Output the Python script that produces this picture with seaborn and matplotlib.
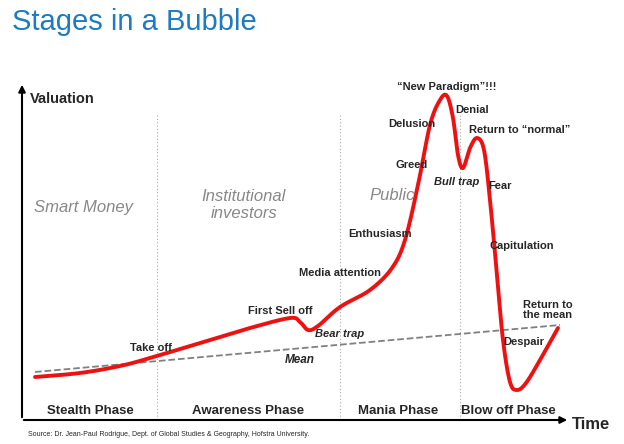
import numpy as np
import matplotlib
matplotlib.use("Agg")
import matplotlib.pyplot as plt
import seaborn as sns

sns.set_style("white")
plt.rcParams['font.family'] = ['Liberation Sans', 'DejaVu Sans']

# curve control points (pixel-space units of the figure)
curve_x = [35, 80, 120, 150, 200, 250, 290, 300, 308, 318, 340, 370, 392, 405, 418, 430, 440, 447, 453, 458, 463, 470, 477, 484, 490, 497, 503, 510, 517, 526, 540, 558]
curve_y = [377, 373, 366, 358, 343, 328, 318, 322, 330, 326, 307, 290, 268, 240, 185, 125, 100, 96, 118, 155, 168, 148, 138, 150, 200, 275, 340, 382, 390, 383, 360, 328]
mean_x = [35, 560]
mean_y = [372, 325]
phase_labels = ["Stealth Phase", "Awareness Phase", "Mania Phase", "Blow off Phase"]
phase_pos = [90, 248, 398, 508]
dividers = [157, 340, 460]
annotations = [
    ("Take off", 151, 348), ("First Sell off", 280, 311), ("Bear trap", 340, 334),
    ("Media attention", 340, 273), ("Enthusiasm", 380, 234), ("Greed", 412, 165),
    ("Delusion", 412, 124), ("\u201cNew Paradigm\u201d!!!", 447, 87), ("Denial", 472, 110),
    ("Return to \u201cnormal\u201d", 520, 130), ("Fear", 500, 186), ("Capitulation", 522, 246),
    ("Despair", 524, 342), ("Return to\nthe mean", 548, 310),
]

def catmull(xs, ys, n=20):
    P = np.column_stack([xs, ys]).astype(float)
    P = np.vstack([P[0], P, P[-1]])
    out = []
    for i in range(1, len(P) - 2):
        p0, p1, p2, p3 = P[i-1], P[i], P[i+1], P[i+2]
        t = np.linspace(0, 1, n, endpoint=False)[:, None]
        out.append(0.5 * ((2*p1) + (-p0+p2)*t + (2*p0-5*p1+4*p2-p3)*t**2 + (-p0+3*p1-3*p2+p3)*t**3))
    out.append(P[-2][None])
    return np.vstack(out)

fig = plt.figure(figsize=(6.24, 4.44), dpi=100)
ax = fig.add_axes([0, 0, 1, 1])
ax.set_xlim(0, 624); ax.set_ylim(444, 0); ax.axis("off")

fig.text(12/624, 1-22/444, "Stages in a Bubble", color="#1F7BC0", fontsize=21, va="center")

ax.annotate("", xy=(22, 82), xytext=(22, 420), arrowprops=dict(arrowstyle="-|>", color="black", lw=1.5))
ax.annotate("", xy=(570, 420), xytext=(21, 420), arrowprops=dict(arrowstyle="-|>", color="black", lw=1.5))
ax.text(30, 99, "Valuation", fontsize=10.5, fontweight="bold", va="center")
ax.text(572, 424, "Time", fontsize=12, fontweight="bold", va="center")

for d in dividers:
    ax.plot([d, d], [115, 420], color="#aaaaaa", lw=0.8, ls=(0, (1, 2)))

sm = catmull(curve_x, curve_y)
sns.lineplot(x=mean_x, y=mean_y, ax=ax, color="#808080", lw=1.3, ls="--")
ax.plot(sm[:, 0], sm[:, 1], color="#ee1111", lw=2.8)
ax.text(300, 360, "Mean", fontsize=8.5, fontweight="bold", style="italic", ha="center", va="center")

for t, x in zip(phase_labels, phase_pos):
    ax.text(x, 411, t, fontsize=9.5, fontweight="bold", ha="center", va="center")

for t, x, y in [("Smart Money", 83, 207), ("Institutional\ninvestors", 244, 205), ("Public", 392, 195)]:
    ax.text(x, y, t, fontsize=12, style="italic", color="#888888", ha="center", va="center", linespacing=1.2)

for t, x, y in annotations:
    st = "italic" if t in ("Bear trap",) else "normal"
    ax.text(x, y, t, fontsize=8, fontweight="bold", style=st, ha="center", va="center", linespacing=1.1)
ax.text(457, 182, "Bull trap", fontsize=8, fontweight="bold", style="italic", ha="center", va="center")

ax.text(28, 434, "Source: Dr. Jean-Paul Rodrigue, Dept. of Global Studies & Geography, Hofstra University.", fontsize=5, va="center")

fig.savefig("out.png", dpi=100)
